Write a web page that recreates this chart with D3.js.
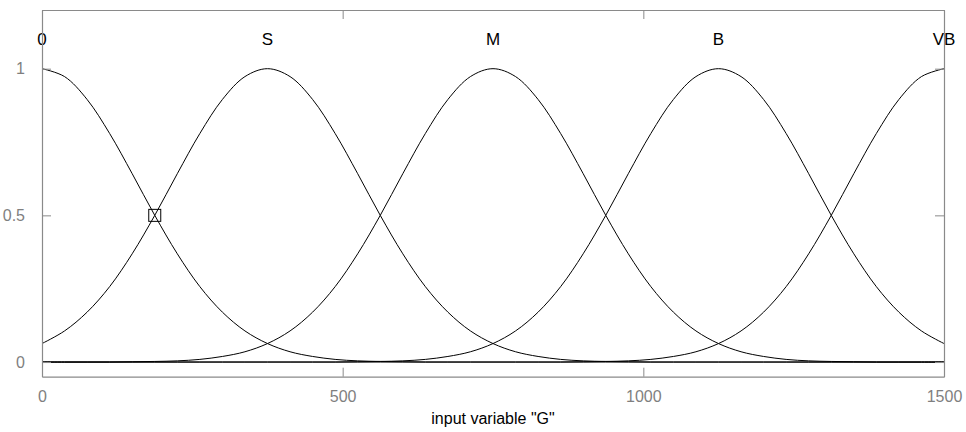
<!DOCTYPE html>
<html>
<head>
<meta charset="utf-8">
<script src="https://cdn.jsdelivr.net/npm/d3@7"></script>
<style>
  html, body { margin: 0; padding: 0; background: #ffffff; }
  svg { display: block; }
  text { font-family: Arial, "Liberation Sans", sans-serif; }
</style>
</head>
<body>
<svg id="chart" width="966" height="432"></svg>
<script>
// ---- data ----
const sampleX = [0, 37.5, 75, 112.5, 150, 187.5, 225, 262.5, 300, 337.5,
  375, 412.5, 450, 487.5, 525, 562.5, 600, 637.5, 675, 712.5,
  750, 787.5, 825, 862.5, 900, 937.5, 975, 1012.5, 1050, 1087.5,
  1125, 1162.5, 1200, 1237.5, 1275, 1312.5, 1350, 1387.5, 1425, 1462.5, 1500];

const mf0 = [1, .973, .895, .779, .642, .5, .369, .257, .17, .106,
  .063, .035, .019, .009, .004, .002, .001, 0, 0, 0,
  0, 0, 0, 0, 0, 0, 0, 0, 0, 0,
  0, 0, 0, 0, 0, 0, 0, 0, 0, 0, 0];
const mfS = [.063, .106, .17, .257, .369, .5, .642, .779, .895, .973,
  1, .973, .895, .779, .642, .5, .369, .257, .17, .106,
  .063, .035, .019, .009, .004, .002, .001, 0, 0, 0,
  0, 0, 0, 0, 0, 0, 0, 0, 0, 0, 0];
const mfM = [0, 0, 0, 0, .001, .002, .004, .009, .019, .035,
  .063, .106, .17, .257, .369, .5, .642, .779, .895, .973,
  1, .973, .895, .779, .642, .5, .369, .257, .17, .106,
  .063, .035, .019, .009, .004, .002, .001, 0, 0, 0, 0];
const mfB = [0, 0, 0, 0, 0, 0, 0, 0, 0, 0,
  0, 0, 0, 0, .001, .002, .004, .009, .019, .035,
  .063, .106, .17, .257, .369, .5, .642, .779, .895, .973,
  1, .973, .895, .779, .642, .5, .369, .257, .17, .106, .063];
const mfVB = [0, 0, 0, 0, 0, 0, 0, 0, 0, 0,
  0, 0, 0, 0, 0, 0, 0, 0, 0, 0,
  0, 0, 0, 0, .001, .002, .004, .009, .019, .035,
  .063, .106, .17, .257, .369, .5, .642, .779, .895, .973, 1];

const mfNames = ["0", "S", "M", "B", "VB"];
const mfPeaks = [0, 375, 750, 1125, 1500];
const mfLabelLevel = 1.1;

const xTicks = [0, 500, 1000, 1500];
const yTicks = [0, 0.5, 1];
const yTickLabels = ["0", "0.5", "1"];

const markerX = 187.5, markerY = 0.5;
const xLabel = 'input variable "G"';

// ---- layout ----
const svg = d3.select("#chart");
const L = 42, R = 944, T = 10, B = 376.7;
const x = d3.scaleLinear().domain([0, 1500]).range([L, R]);
const y = d3.scaleLinear().domain([-0.05, 1.2]).range([B, T]);
const axisColor = "#8a8a8a";
const tickLen = 9;

svg.append("rect").attr("width", 966).attr("height", 432).attr("fill", "#fff");

// curves
const series = [mf0, mfS, mfM, mfB, mfVB];
const line = d3.line()
  .x((d, i) => x(sampleX[i]))
  .y(d => y(d))
  .curve(d3.curveCatmullRom.alpha(0.5));
const clip = svg.append("clipPath").attr("id", "clip")
  .append("rect").attr("x", L).attr("y", T).attr("width", R - L).attr("height", B - T);
svg.append("g").attr("clip-path", "url(#clip)")
  .selectAll("path").data(series).join("path")
  .attr("d", d => line(d))
  .attr("fill", "none")
  .attr("stroke", "#000")
  .attr("stroke-width", 1);

// MF labels
svg.append("g").selectAll("text").data(mfNames).join("text")
  .attr("x", (d, i) => x(mfPeaks[i]))
  .attr("y", y(mfLabelLevel))
  .attr("dy", "0.35em")
  .attr("text-anchor", "middle")
  .attr("font-size", 17)
  .attr("fill", "#000")
  .text(d => d);

// marker
svg.append("rect")
  .attr("x", x(markerX) - 6).attr("y", y(markerY) - 6)
  .attr("width", 12).attr("height", 12)
  .attr("fill", "none").attr("stroke", "#000").attr("stroke-width", 1);

// axes box with inward ticks
const axisG = svg.append("g");
const xBottom = d3.axisBottom(x).tickValues(xTicks).tickSizeInner(-tickLen).tickSizeOuter(0).tickPadding(14)
  .tickFormat(d3.format("d"));
const gxb = axisG.append("g").attr("transform", `translate(0,${B})`).call(xBottom);
const xTop = d3.axisTop(x).tickValues(xTicks).tickSizeInner(-tickLen).tickSizeOuter(0).tickFormat("");
const gxt = axisG.append("g").attr("transform", `translate(0,${T})`).call(xTop);
const yLeft = d3.axisLeft(y).tickValues(yTicks).tickSizeInner(-tickLen).tickSizeOuter(0).tickPadding(17)
  .tickFormat((d, i) => yTickLabels[i]);
const gyl = axisG.append("g").attr("transform", `translate(${L},0)`).call(yLeft);
const yRight = d3.axisRight(y).tickValues(yTicks).tickSizeInner(-tickLen).tickSizeOuter(0).tickFormat("");
const gyr = axisG.append("g").attr("transform", `translate(${R},0)`).call(yRight);

[gxb, gxt, gyl, gyr].forEach(g => {
  g.select(".domain").attr("stroke", axisColor).attr("stroke-width", 1.2);
  g.selectAll(".tick line").attr("stroke", axisColor);
  g.selectAll(".tick text").attr("fill", "#7f7f7f").attr("font-size", 16)
    .attr("font-family", "Arial, 'Liberation Sans', sans-serif");
});

// x label
svg.append("text")
  .attr("x", (L + R) / 2).attr("y", 424)
  .attr("text-anchor", "middle")
  .attr("font-size", 16)
  .attr("fill", "#000")
  .text(xLabel);
</script>
</body>
</html>
